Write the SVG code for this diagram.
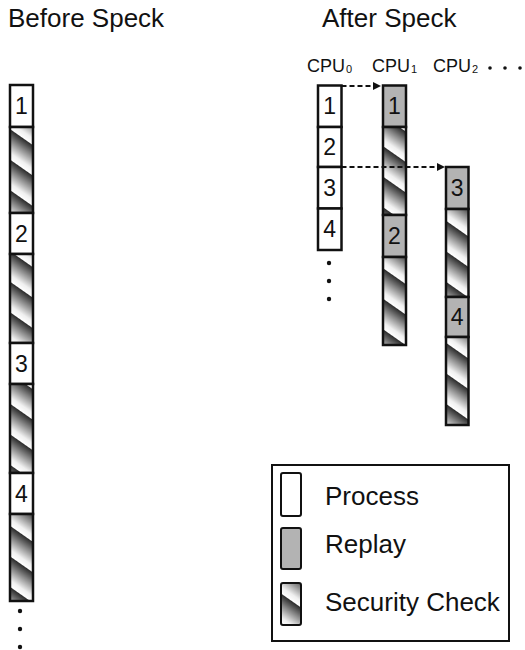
<svg xmlns="http://www.w3.org/2000/svg" width="525" height="650" viewBox="0 0 525 650">
<defs>
<linearGradient id="sg" x1="0" y1="0" x2="0" y2="1">
<stop offset="0" stop-color="#2a2a2a"/>
<stop offset="0.35" stop-color="#858585"/>
<stop offset="0.78" stop-color="#f0f0f0"/>
<stop offset="1" stop-color="#ffffff"/>
</linearGradient>
<pattern id="sec" patternUnits="userSpaceOnUse" width="40" height="25" patternTransform="rotate(35)">
<rect x="0" y="0" width="40" height="25" fill="url(#sg)"/>
</pattern>
<marker id="ah" viewBox="0 0 10 10" refX="10" refY="5" markerWidth="10" markerHeight="8" markerUnits="userSpaceOnUse" orient="auto">
<path d="M0,0 L10,5 L0,10 z" fill="#111"/>
</marker>
</defs>
<style>
text{font-family:"Liberation Sans",Arial,sans-serif;fill:#111}
.title{font-size:26px}
.num{font-size:23px;text-anchor:middle}
.cpu{font-size:18px}
.sub{font-size:11px}
.leg{font-size:26px}
.p{fill:#fff;stroke:#111;stroke-width:2.5}
.r{fill:#b3b3b3;stroke:#111;stroke-width:2.5}
.s{fill:url(#sec);stroke:#111;stroke-width:2.5}
.sw{stroke:#111;stroke-width:2}
.arr{stroke:#111;stroke-width:2;stroke-dasharray:5 3;fill:none}
.dot{fill:#111}
</style>
<rect width="525" height="650" fill="#fff"/>
<text class="title" x="8" y="27">Before Speck</text>
<text class="title" x="322" y="27">After Speck</text>

<g id="before-column">
<rect class="p" x="10" y="85" width="23" height="42"/>
<text class="num" x="21.5" y="114">1</text>
<rect class="s" x="10" y="127" width="23" height="86"/>
<rect class="p" x="10" y="213" width="23" height="41"/>
<text class="num" x="21.5" y="241.5">2</text>
<rect class="s" x="10" y="254" width="23" height="89"/>
<rect class="p" x="10" y="343" width="23" height="41"/>
<text class="num" x="21.5" y="371.5">3</text>
<rect class="s" x="10" y="384" width="23" height="89"/>
<rect class="p" x="10" y="473" width="23" height="41"/>
<text class="num" x="21.5" y="501.5">4</text>
<rect class="s" x="10" y="514" width="23" height="87"/>
<circle class="dot" cx="20" cy="611" r="2.2"/>
<circle class="dot" cx="20" cy="629" r="2.2"/>
<circle class="dot" cx="20" cy="647" r="2.2"/>
</g>

<g id="cpu-labels">
<text class="cpu" x="307" y="72">CPU<tspan class="sub" dx="1" dy="1">0</tspan></text>
<text class="cpu" x="372" y="72">CPU<tspan class="sub" dx="1" dy="1">1</tspan></text>
<text class="cpu" x="433" y="72">CPU<tspan class="sub" dx="1" dy="1">2</tspan></text>
<circle class="dot" cx="490" cy="68" r="1.8"/>
<circle class="dot" cx="505" cy="68" r="1.8"/>
<circle class="dot" cx="520" cy="68" r="1.8"/>
</g>

<g id="cpu0">
<rect class="p" x="318" y="85.5" width="23.5" height="41.5"/>
<text class="num" x="329.75" y="114">1</text>
<rect class="p" x="318" y="127" width="23.5" height="40"/>
<text class="num" x="329.75" y="155">2</text>
<rect class="p" x="318" y="167" width="23.5" height="41.5"/>
<text class="num" x="329.75" y="195.5">3</text>
<rect class="p" x="318" y="208.5" width="23.5" height="41.5"/>
<text class="num" x="329.75" y="237">4</text>
<circle class="dot" cx="329" cy="263" r="2.2"/>
<circle class="dot" cx="329" cy="281" r="2.2"/>
<circle class="dot" cx="329" cy="299" r="2.2"/>
</g>

<g id="cpu1">
<rect class="r" x="383" y="85.5" width="23" height="41.5"/>
<text class="num" x="394.5" y="114">1</text>
<rect class="s" x="383" y="127" width="23" height="88"/>
<rect class="r" x="383" y="215" width="23" height="42"/>
<text class="num" x="394.5" y="244">2</text>
<rect class="s" x="383" y="257" width="23" height="88"/>
</g>

<g id="cpu2">
<rect class="r" x="446" y="167" width="22.5" height="42"/>
<text class="num" x="457.25" y="196">3</text>
<rect class="s" x="446" y="209" width="22.5" height="88"/>
<rect class="r" x="446" y="297" width="22.5" height="40"/>
<text class="num" x="457.25" y="325">4</text>
<rect class="s" x="446" y="337" width="22.5" height="88"/>
</g>

<g id="connectors">
<line class="arr" x1="341.5" y1="86" x2="381" y2="86" marker-end="url(#ah)"/>
<line class="arr" x1="341.5" y1="167" x2="445" y2="167" marker-end="url(#ah)"/>
</g>

<g id="legend">
<rect x="272" y="465" width="237" height="176" fill="#fff" stroke="#111" stroke-width="2"/>
<rect class="sw" x="281" y="473" width="20" height="43" rx="2" fill="#fff"/>
<text class="leg" x="325" y="505">Process</text>
<rect class="sw" x="281" y="528" width="20" height="41" rx="2" fill="#b3b3b3"/>
<text class="leg" x="325" y="553">Replay</text>
<rect class="sw" x="281" y="583" width="20" height="42" rx="2" fill="url(#sec)"/>
<text class="leg" x="325" y="611">Security Check</text>
</g>
</svg>
